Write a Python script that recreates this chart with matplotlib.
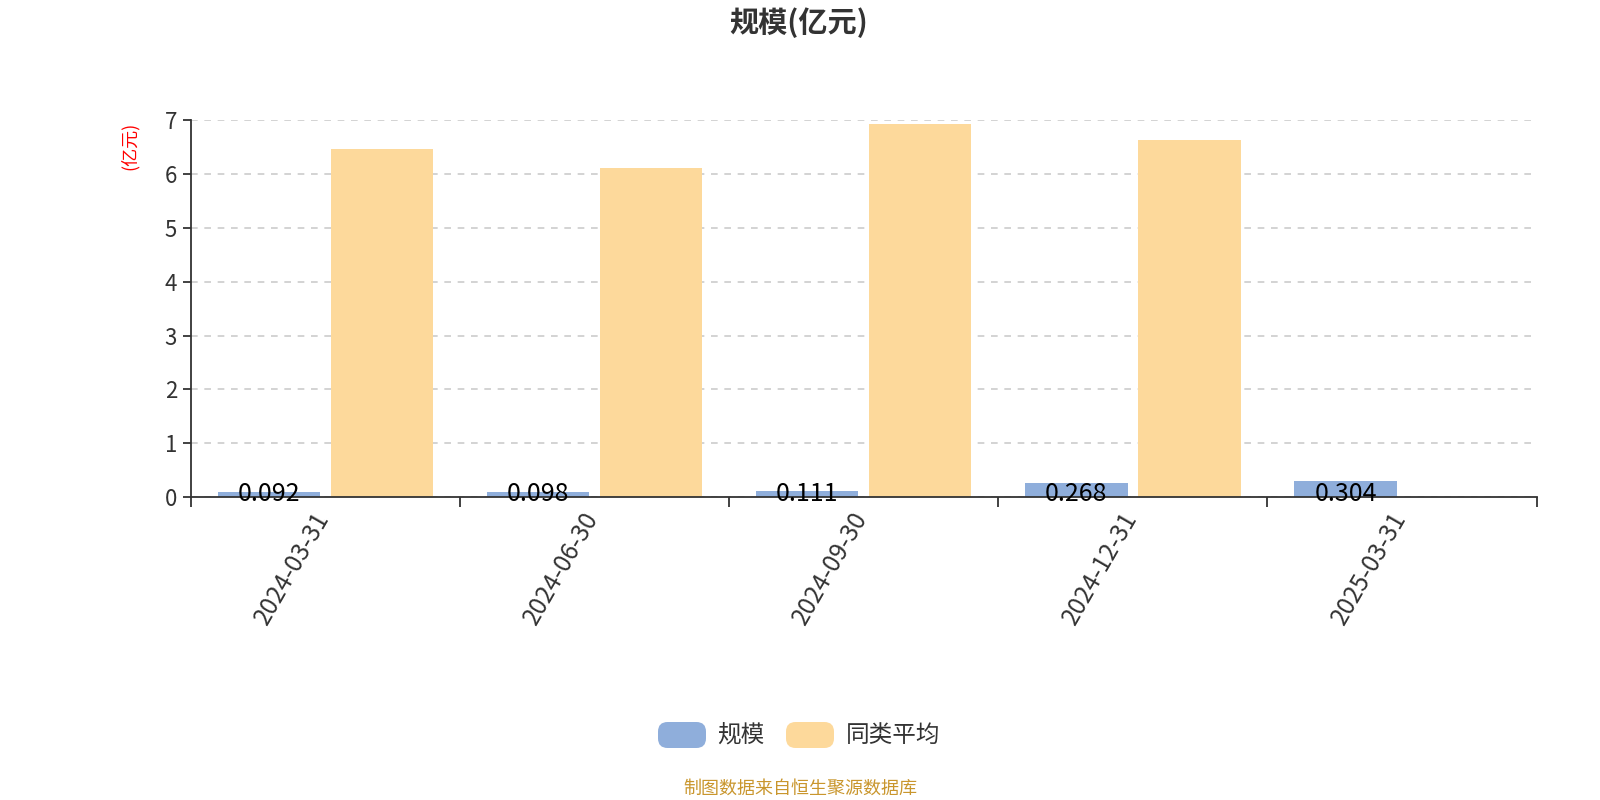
import matplotlib
matplotlib.use("Agg")
import matplotlib.pyplot as plt
import matplotlib.transforms as mtransforms
from matplotlib.patches import FancyBboxPatch
import numpy as np

plt.rcParams['font.family'] = ['Noto Sans CJK SC', 'DejaVu Sans']

# data
dates = ['2024-03-31', '2024-06-30', '2024-09-30', '2024-12-31', '2025-03-31']
scale_vals = [0.092, 0.098, 0.111, 0.268, 0.304]
peer_avg = [6.47, 6.12, 6.94, 6.64, None]

blue = '#8FAEDB'
yellow = '#FDD99B'
dark = '#333333'

fig = plt.figure(figsize=(16, 8), dpi=100)
ax = fig.add_axes([0.1193, 0.37875, 0.8411, 0.4708])

x = np.arange(len(dates))
w = 0.38
ax.bar(x - 0.21, scale_vals, width=w, color=blue, zorder=3)
px = [i for i, v in enumerate(peer_avg) if v is not None]
pv = [v for v in peer_avg if v is not None]
ax.bar(np.array(px) + 0.21, pv, width=w, color=yellow, zorder=3)

for i, v in enumerate(scale_vals):
    ax.annotate(f'{v:.3f}', (i - 0.21, 0), xytext=(0, -3), textcoords='offset points',
                ha='center', va='baseline', fontsize=18, color='black', zorder=6)

ax.set_xlim(-0.5, len(dates) - 0.5)
ax.set_ylim(0, 7)
ax.set_yticks(range(0, 8))
ax.yaxis.grid(True, linestyle=(0, (4, 4)), color='#cccccc', linewidth=1.2, zorder=0)

# category boundaries as ticks, date labels drawn in the middle
ax.set_xticks(np.arange(-0.5, len(dates), 1.0))
ax.set_xticklabels([])
ax.tick_params(axis='x', which='major', length=7, width=1.3, color=dark)
ax.tick_params(axis='y', length=6, width=1.3, color=dark, labelsize=16, labelcolor=dark, pad=4)

lab_tr = ax.get_xaxis_transform() + mtransforms.ScaledTranslation(-0.13, -0.10, fig.dpi_scale_trans)
for i, d in enumerate(dates):
    ax.text(i, 0, d, transform=lab_tr, rotation=60, ha='right', va='top',
            rotation_mode='anchor', fontsize=17.5, color=dark, clip_on=False)

for s in ['top', 'right']:
    ax.spines[s].set_visible(False)
for s in ['left', 'bottom']:
    ax.spines[s].set_color(dark)
    ax.spines[s].set_linewidth(1.3)
ax.spines['bottom'].set_zorder(5)

fig.text(0.0812, 0.8175, '(亿元)', rotation=90, color='red', fontsize=13,
         ha='center', va='center')

fig.text(0.499, 0.972, '规模(亿元)', fontsize=21, fontweight='bold', color=dark,
         ha='center', va='center')

# legend with rounded swatches
for (x0, lab, col, tx) in [(658, '规模', blue, 717), (786, '同类平均', yellow, 846)]:
    fig.patches.append(FancyBboxPatch((x0 / 1600, 1 - 748 / 800), 48 / 1600, 26 / 800,
                                      boxstyle='round,pad=0,rounding_size=0.006',
                                      transform=fig.transFigure, facecolor=col,
                                      edgecolor='none', mutation_aspect=2))
    fig.text(tx / 1600, 1 - 735 / 800, lab, fontsize=17, color=dark, ha='left', va='center')

fig.text(0.5, 1 - 789 / 800, '制图数据来自恒生聚源数据库', fontsize=13, color='#C9962D',
         ha='center', va='center')

fig.savefig('out.png', dpi=100)
